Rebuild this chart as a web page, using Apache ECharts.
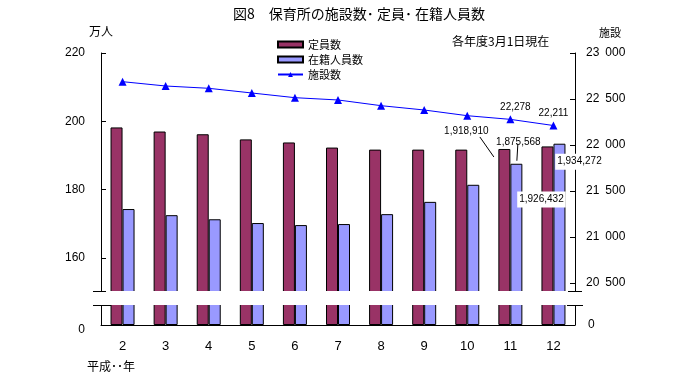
<!DOCTYPE html>
<html>
<head>
<meta charset="utf-8">
<script src="https://cdn.jsdelivr.net/npm/echarts@6/dist/echarts.min.js"></script>
<style>html,body{margin:0;padding:0;background:#fff}#c{width:676px;height:390px}</style>
</head>
<body>
<div id="c"></div>
<script>
// ---- data ----
const categories = ['2','3','4','5','6','7','8','9','10','11','12'];
// 定員数 (万人)
const capacity = [198.2, 197.0, 196.2, 194.7, 193.8, 192.3, 191.7, 191.7, 191.7, 191.89, 192.64];
// 在籍人員数 (万人)
const enrolled = [174.3, 172.5, 171.3, 170.2, 169.6, 169.9, 172.8, 176.4, 181.4, 187.56, 193.43];
// 施設数
const facilities = [22688, 22641, 22616, 22565, 22514, 22489, 22427, 22380, 22318, 22278, 22211];
const capacityLabels = ['', '', '', '', '', '', '', '', '', '1,918,910', '1,926,432'];
const enrolledLabels = ['', '', '', '', '', '', '', '', '', '1,875,568', '1,934,272'];
const facilityLabels = ['', '', '', '', '', '', '', '', '', '22,278', '22,211'];
const leftTicks = [160, 180, 200, 220];
const rightTicks = [20500, 21000, 21500, 22000, 22500, 23000];

const FONT = "'Liberation Sans', 'Noto Sans CJK JP', sans-serif";
const JFONT = "'Noto Sans CJK JP', sans-serif";
const MAROON = '#993366', LBLUE = '#9999FF', BLUE = '#0000FF';

const G_LEFT = 101, G_RIGHT = 101, UP_TOP = 53, UP_H = 239, LO_TOP = 304, LO_H = 21;

function fmtRight(v) {
  if (v === 0) return '0';
  const t = Math.floor(v / 1000), r = v % 1000;
  return t + '\u2002' + String(r).padStart(3, '0');
}

// label offsets (dx, dy) relative to default 'top' label position
const capOffsets = {9: [-38, -8], 10: [-6, 66]};
const enrOffsets = {9: [2, -12], 10: [20, 31]};

function barData(values, labels, offsets) {
  return values.map((v, i) => {
    const o = {value: v};
    if (labels[i]) {
      const boxed = !!(offsets[i] && offsets[i][1] > 0);
      o.label = {
        show: true, position: 'top', distance: 5,
        formatter: labels[i], fontSize: 10, fontFamily: FONT, color: '#000',
        backgroundColor: boxed ? '#fff' : 'transparent',
        padding: boxed ? [3, 2] : 0
      };
    }
    return o;
  });
}

const chart = echarts.init(document.getElementById('c'), null, {renderer: 'canvas'});

const option = {
  animation: false,
  backgroundColor: '#fff',
  title: {
    text: '図8\u3000保育所の施設数･ 定員･ 在籍人員数',
    left: 233, top: 7, padding: 0,
    textStyle: {fontSize: 14, fontWeight: 'normal', color: '#000', fontFamily: JFONT}
  },
  legend: {
    orient: 'vertical', left: 277, top: 38, padding: 0,
    itemWidth: 25, itemHeight: 6, itemGap: 2,
    data: [
      {name: '定員数', icon: 'rect'},
      {name: '在籍人員数', icon: 'rect'},
      {name: '施設数'}
    ],
    textStyle: {fontSize: 11, lineHeight: 13, color: '#000', fontFamily: JFONT}
  },
  grid: [
    {left: G_LEFT, right: G_RIGHT, top: UP_TOP, height: UP_H},
    {left: G_LEFT, right: G_RIGHT, top: LO_TOP, height: LO_H}
  ],
  xAxis: [
    {type: 'category', gridIndex: 0, data: categories, show: false},
    {type: 'category', gridIndex: 1, data: categories,
     axisLine: {show: true, lineStyle: {color: '#000', width: 1}},
     axisTick: {show: false},
     axisLabel: {margin: 15, fontSize: 13, color: '#000', fontFamily: FONT}}
  ],
  yAxis: [
    {type: 'value', gridIndex: 0, min: 150, max: 220, position: 'left',
     name: '万人', nameLocation: 'end', nameGap: 16,
     nameTextStyle: {fontSize: 12, color: '#000', fontFamily: JFONT, align: 'center'},
     axisLine: {show: true, lineStyle: {color: '#000', width: 1}},
     axisTick: {show: true, inside: true, length: 5, customValues: leftTicks, lineStyle: {color: '#000'}},
     axisLabel: {margin: 16, fontSize: 12, color: '#000', fontFamily: FONT, customValues: leftTicks},
     splitLine: {show: false}},
    {type: 'value', gridIndex: 0, min: 20400, max: 23000, position: 'right',
     name: '施設', nameLocation: 'end', nameGap: 15,
     nameTextStyle: {fontSize: 11, color: '#000', fontFamily: JFONT, align: 'left', padding: [0, 0, 0, 24]},
     axisLine: {show: true, lineStyle: {color: '#000', width: 1}},
     axisTick: {show: true, inside: true, length: 5, customValues: rightTicks, lineStyle: {color: '#000'}},
     axisLabel: {margin: 11, fontSize: 12, color: '#000', fontFamily: FONT, customValues: rightTicks, formatter: fmtRight},
     splitLine: {show: false}},
    {type: 'value', gridIndex: 1, min: 0, max: 10, position: 'left',
     axisLine: {show: true, lineStyle: {color: '#000', width: 1}},
     axisTick: {show: false},
     axisLabel: {margin: 16, fontSize: 12, color: '#000', fontFamily: FONT, customValues: [0],
                 verticalAlign: 'top', lineHeight: 9},
     splitLine: {show: false}},
    {type: 'value', gridIndex: 1, min: 0, max: 10, position: 'right',
     axisLine: {show: true, lineStyle: {color: '#000', width: 1}},
     axisTick: {show: false},
     axisLabel: {margin: 13, fontSize: 12, color: '#000', fontFamily: FONT, customValues: [0], formatter: fmtRight},
     splitLine: {show: false}}
  ],
  series: [
    {name: '定員数', type: 'bar', xAxisIndex: 0, yAxisIndex: 0, barWidth: 12, barGap: '0%',
     clip: true,
     itemStyle: {color: MAROON, borderColor: '#000', borderWidth: 1},
     data: barData(capacity, capacityLabels, capOffsets),
     labelLayout: p => { const o = capOffsets[p.dataIndex]; return o ? {dx: o[0], dy: o[1]} : {}; }},
    {name: '在籍人員数', type: 'bar', xAxisIndex: 0, yAxisIndex: 0, barWidth: 12, barGap: '0%',
     clip: true,
     itemStyle: {color: LBLUE, borderColor: '#000', borderWidth: 1},
     data: barData(enrolled, enrolledLabels, enrOffsets),
     labelLayout: p => { const o = enrOffsets[p.dataIndex]; return o ? {dx: o[0], dy: o[1]} : {}; }},
    {name: '施設数', type: 'line', xAxisIndex: 0, yAxisIndex: 1,
     symbol: 'triangle', symbolSize: 8,
     lineStyle: {color: BLUE, width: 1}, itemStyle: {color: BLUE},
     data: facilities.map((v, i) => facilityLabels[i] ? {value: v, label: {show: true, position: 'top', distance: 3,
        formatter: facilityLabels[i], fontSize: 10, color: '#000', fontFamily: FONT}} : v),
     labelLayout: p => p.dataIndex === 9 ? {dx: 5} : {}},
    {name: '定員数', type: 'bar', xAxisIndex: 1, yAxisIndex: 2, barWidth: 12, barGap: '0%',
     clip: true, silent: true,
     itemStyle: {color: MAROON, borderColor: '#000', borderWidth: 1},
     data: capacity},
    {name: '在籍人員数', type: 'bar', xAxisIndex: 1, yAxisIndex: 2, barWidth: 12, barGap: '0%',
     clip: true, silent: true,
     itemStyle: {color: LBLUE, borderColor: '#000', borderWidth: 1},
     data: enrolled}
  ]
};
chart.setOption(option);

// decorations: axis break gap, break marks, leader lines, notes
const pCap = chart.convertToPixel({xAxisIndex: 0, yAxisIndex: 0}, [categories[9], capacity[9]]);
const pEnr = chart.convertToPixel({xAxisIndex: 0, yAxisIndex: 0}, [categories[9], enrolled[9]]);
const ln = (id, x1, y1, x2, y2, z) => ({id, type: 'line', z: z || 60,
  shape: {x1, y1, x2, y2}, style: {stroke: '#000', lineWidth: 1}});
chart.setOption({
  graphic: [
    {id: 'gap', type: 'rect', z: 50, shape: {x: 85, y: 291, width: 505, height: 14}, style: {fill: '#fff'}},
    ln('b1', 93, 291.5, 106, 291.5),
    ln('b2', 93, 305.5, 111, 305.5),
    ln('b3', 568, 291.5, 582, 291.5),
    ln('b4', 567, 305.5, 583, 305.5),
    ln('l1', pCap[0] - 30.5, pCap[1] - 12, pCap[0] - 16.5, pCap[1] + 8),
    ln('l2', pEnr[0] + 7.5, pEnr[1] - 20, pEnr[0] + 6.5, pEnr[1] - 3),
    {id: 't1', type: 'text', left: 87, top: 360, style: {text: '平成･･年', fill: '#000', font: "12px 'Noto Sans CJK JP', sans-serif"}},
    {id: 't2', type: 'text', left: 452, top: 35, style: {text: '各年度3月1日現在', fill: '#000', font: "12px 'Noto Sans CJK JP', sans-serif"}}
  ]
});
</script>
</body>
</html>
